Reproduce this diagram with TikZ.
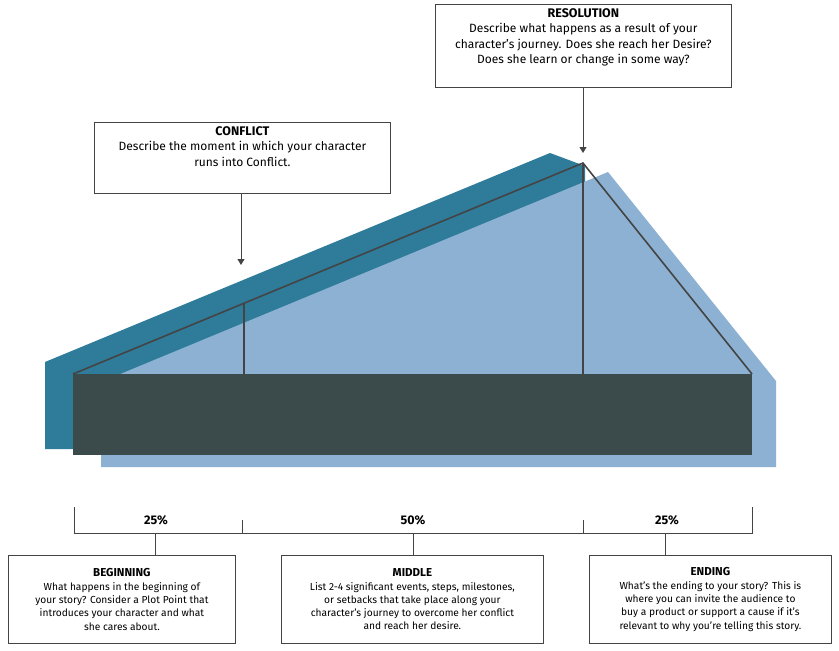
\documentclass[tikz,border=0pt]{standalone}
\usepackage{fontspec}
\setmainfont{Fira Sans}
\usetikzlibrary{arrows.meta}
\definecolor{teal1}{HTML}{2E7B9A}
\definecolor{lblue}{HTML}{8DB1D2}
\definecolor{dark}{HTML}{3B4A4B}
\definecolor{ln}{HTML}{444444}
\begin{document}
\begin{tikzpicture}[x=1pt,y=-1pt,
  box/.style={draw=ln,line width=0.8pt,fill=white,align=center,font=\fontsize{10.2}{13.3}\selectfont,inner sep=4pt},
  tbox/.style={box,font=\fontsize{12}{15.5}\selectfont},
  conn/.style={draw=ln,line width=0.8pt},
  arr/.style={conn,-{Triangle[length=6pt,width=7pt]}},
  pct/.style={font=\fontsize{12.5}{14}\selectfont\bfseries}]
\useasboundingbox (0,0) rectangle (839,651);
\fill[teal1] (45,362) -- (550,153) -- (585,166) -- (585,449) -- (45,449) -- cycle;
\fill[lblue] (101,382) -- (608,172) -- (776,381) -- (776,467) -- (101,467) -- cycle;
\fill[dark] (73,374) rectangle (752,455);
\coordinate (L) at (73,374); \coordinate (P) at (583,163); \coordinate (R) at (752,374);
\coordinate (c1) at (244,304); \coordinate (c1b) at (244,374); \coordinate (pb) at (583,374);
\draw[ln,line width=1.6pt,line join=miter] (L) -- (P) -- (R);
\draw[ln,line width=1.6pt] (c1) -- (c1b) (P) -- (pb);
\node[tbox,minimum width=296pt,minimum height=62pt,anchor=north west] (conf) at (94,122)
 {\textbf{\fontsize{12.5}{15.5}\selectfont CONFLICT}\\Describe the moment in which your character\\runs into Conflict.\\[8pt]};
\node[tbox,minimum width=296pt,minimum height=83pt,anchor=north west] (res) at (435,4)
 {\textbf{\fontsize{12.5}{15.5}\selectfont RESOLUTION}\\Describe what happens as a result of your\\character’s journey. Does she reach her Desire?\\Does she learn or change in some way?\\[4pt]};
\coordinate (ca) at (241,265); \coordinate (ra) at (583,153);
\draw[arr] (conf.south -| ca) -- (ca);
\draw[arr] (res.south -| ra) -- (ra);
% bracket
\coordinate (b0) at (74,533); \coordinate (b1) at (242,533); \coordinate (b2) at (583,533); \coordinate (b3) at (752,533);
\draw[conn] (74,507) -- (b0) -- (b3) -- (752,507);
\draw[conn] (b1) -- (242,520) (b2) -- (583,520);
\node[pct] at (156,520) {25\%};
\node[pct] at (413,520) {50\%};
\node[pct] at (667,520) {25\%};
\node[box,minimum width=227pt,minimum height=88pt,anchor=north west] (beg) at (8,555)
 {\textbf{\fontsize{11.5}{13.3}\selectfont BEGINNING}\\What happens in the beginning of\\your story? Consider a Plot Point that\\introduces your character and what\\she cares about.};
\node[box,minimum width=262pt,minimum height=88pt,anchor=north west] (mid) at (281,555)
 {\textbf{\fontsize{11.5}{13.3}\selectfont MIDDLE}\\List 2-4 significant events, steps, milestones,\\or setbacks that take place along your\\character’s journey to overcome her conflict\\and reach her desire.};
\node[box,minimum width=242pt,minimum height=88pt,anchor=north west] (end) at (589,555)
 {\textbf{\fontsize{11.5}{13.3}\selectfont ENDING}\\What’s the ending to your story? This is\\where you can invite the audience to\\buy a product or support a cause if it’s\\relevant to why you’re telling this story.};
\draw[conn] (155,533) -- (beg.north -| 155,0);
\draw[conn] (413,533) -- (mid.north -| 413,0);
\draw[conn] (665,533) -- (end.north -| 665,0);
\end{tikzpicture}
\end{document}
